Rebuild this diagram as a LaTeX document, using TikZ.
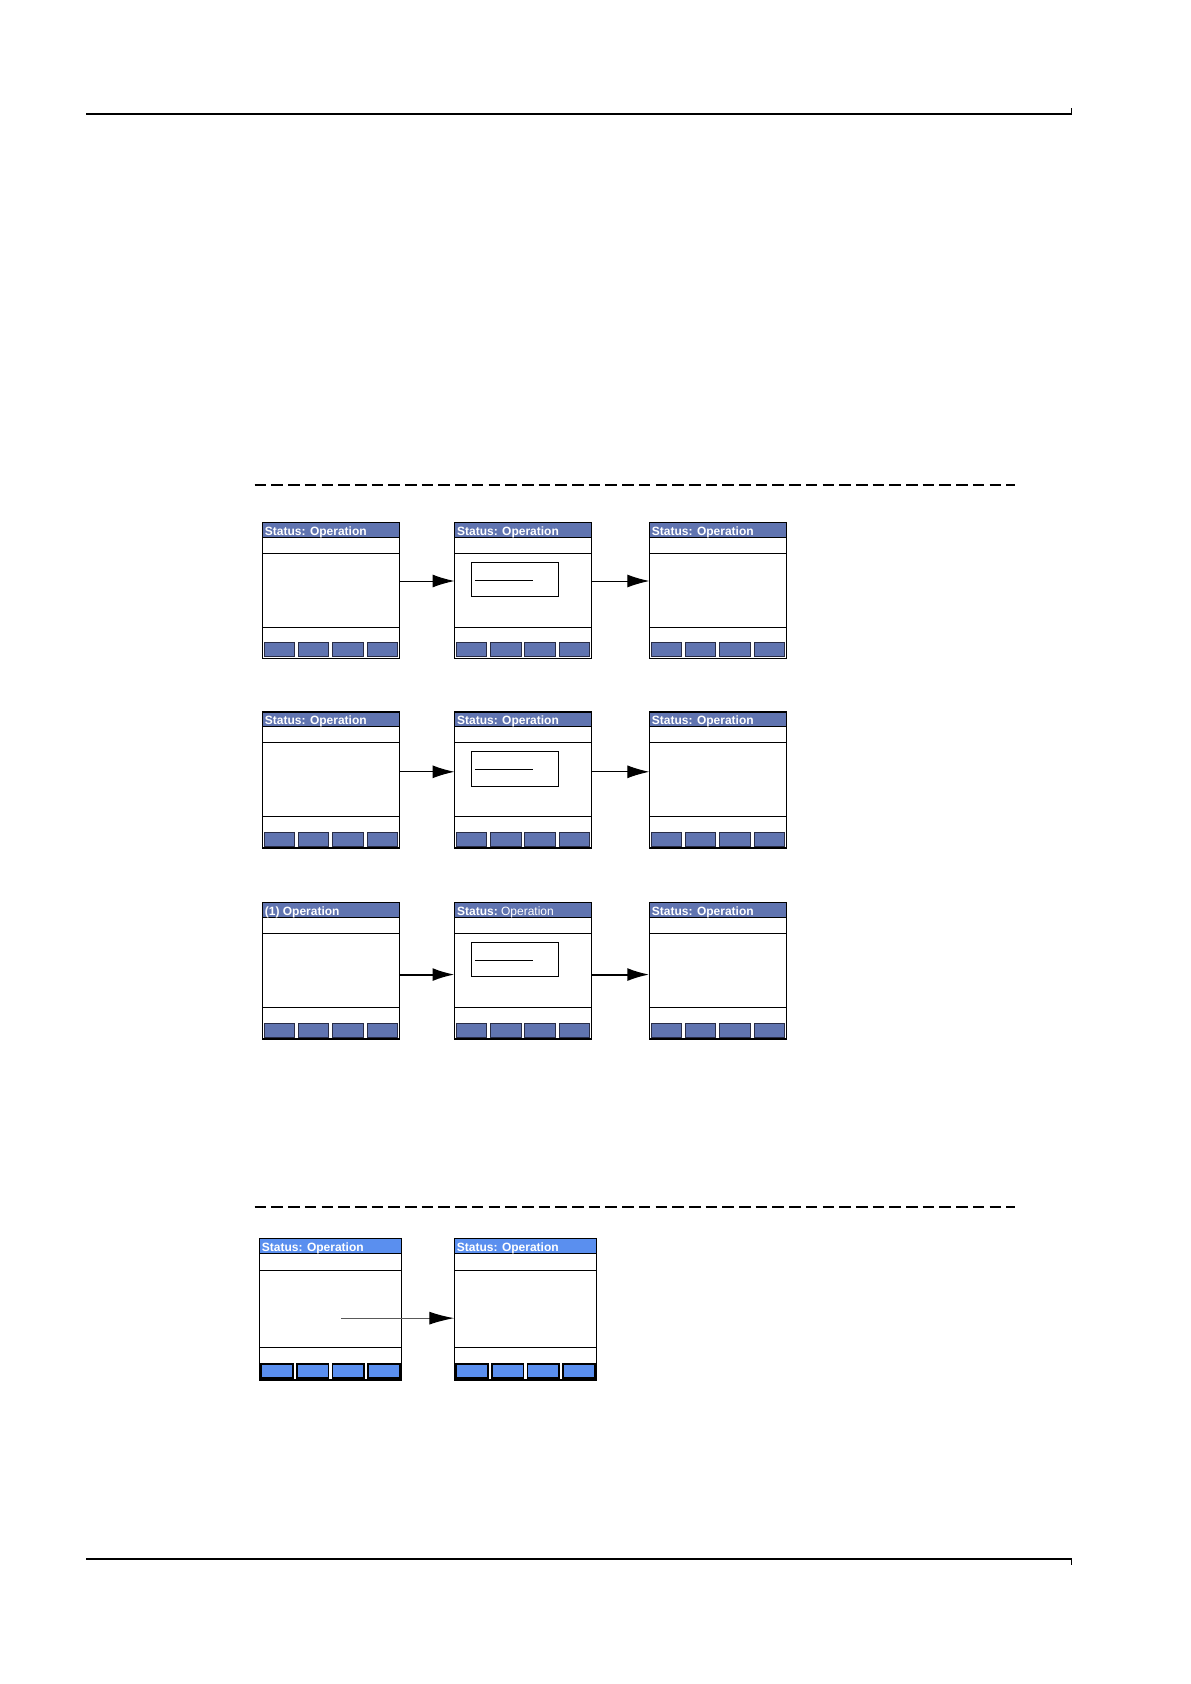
\documentclass[tikz,border=0pt]{standalone}
\usepackage{fontspec}
\newfontfamily\arialfont{Liberation Sans}
\usetikzlibrary{arrows.meta}
\definecolor{barA}{RGB}{96,116,176}
\definecolor{barB}{RGB}{90,143,239}
\definecolor{btnlineA}{RGB}{40,44,70}
\tikzset{
  frame/.style={draw=black, line width=0.75pt, rectangle, inner sep=0pt, outer sep=0pt, fill=none},
  innerline/.style={draw=black, line width=0.5pt},
  btnA/.style={fill=barA, draw=btnlineA, line width=0.5pt},
  btnB/.style={fill=barB, draw=black, line width=0.9pt},
  titletext/.style={text=white, inner sep=0pt, font=\arialfont\fontsize{6pt}{7pt}\selectfont\bfseries},
  arr/.style={draw=black, line width=0.5pt, -{Latex[length=11pt,width=6.5pt]}},
  arrthick/.style={draw=black, line width=1pt, -{Latex[length=11pt,width=6.5pt]}},
  arrgray/.style={draw=black!65, line width=0.6pt, -{Latex[length=12.5pt,width=6.5pt,color=black]}},
  rule/.style={draw=black, line width=0.8pt},
  sep/.style={draw=black, line width=0.7pt, dash pattern=on 5.8pt off 2.55pt},
}
% #1 name, #2 left x, #3 top y, #4 width, #5 height, #6 title, #7 colour set (A/B)
\newcommand\lcdscreen[7]{%
  \fill[bar#7] (#2,#3) rectangle (#2+#4,#3+0.11*#5);
  \draw[innerline] (#2,#3+0.11*#5) -- (#2+#4,#3+0.11*#5);
  \draw[innerline] (#2,#3+0.228*#5) -- (#2+#4,#3+0.228*#5);
  \draw[innerline] (#2,#3+0.773*#5) -- (#2+#4,#3+0.773*#5);
  \foreach \i in {0,1,2,3}{%
    \draw[btn#7] (#2+0.0125*#4+\i*0.251*#4,#3+0.887*#5) rectangle ++(0.222*#4,0.1*#5);}
  \node[frame, minimum width=#4*0.5pt, minimum height=#5*0.5pt] (#1) at (#2+#4/2,#3+#5/2) {};
  \node[titletext, anchor=base west] (#1t) at (#2+2.2,#3+0.094*#5) {#6};
}
% dialog box inside a screen: #1 left x, #2 top y
\newcommand\lcddialog[2]{%
  \draw[innerline] (#1+17,#2+40) rectangle (#1+104.4,#2+74.5);
  \draw[innerline] (#1+20.3,#2+58) -- (#1+78.7,#2+58);
}
\begin{document}
\begin{tikzpicture}[x=0.5pt,y=-0.5pt]
\useasboundingbox (0,0) rectangle (1190,1684);
% page rules
\draw[rule] (86,114) -- (1071.3,114) -- (1071.3,108);
\draw[rule] (86,1559) -- (1071.3,1559) -- (1071.3,1565);
% separators
\draw[sep] (254.7,485) -- (1015,485);
\draw[sep] (254.7,1207) -- (1015,1207);
% row 1
\lcdscreen{s11}{262.3}{522.3}{137}{136}{Status: Operation}{A}
\lcdscreen{s12}{454.5}{522.3}{137}{136}{Status: Operation}{A}
\lcddialog{454.5}{522.3}
\lcdscreen{s13}{649.3}{522.3}{137}{136}{Status: Operation}{A}
\draw[arr] ([yshift=4.65pt]s11.east) -- ([yshift=4.65pt]s12.west);
\draw[arr] ([yshift=4.65pt]s12.east) -- ([yshift=4.65pt]s13.west);
% row 2
\lcdscreen{s21}{262.3}{711.8}{137}{136}{Status: Operation}{A}
\lcdscreen{s22}{454.5}{711.8}{137}{136}{Status: Operation}{A}
\lcddialog{454.5}{711.8}
\lcdscreen{s23}{649.3}{711.8}{137}{136}{Status: Operation}{A}
\draw[arr] ([yshift=4pt]s21.east) -- ([yshift=4pt]s22.west);
\draw[arr] ([yshift=4pt]s22.east) -- ([yshift=4pt]s23.west);
% row 3
\lcdscreen{s31}{262.3}{902.3}{137}{136.5}{(1) Operation}{A}
\lcdscreen{s32}{454.5}{902.3}{137}{136.5}{Status:\mdseries\ Operation}{A}
\lcddialog{454.5}{902.3}
\lcdscreen{s33}{649.3}{902.3}{137}{136.5}{Status: Operation}{A}
\draw[arrthick] ([yshift=-2pt]s31.east) -- ([yshift=-2pt]s32.west);
\draw[arrthick] ([yshift=-2pt]s32.east) -- ([yshift=-2pt]s33.west);
% row 4
\lcdscreen{s41}{259.3}{1238.3}{142.4}{141.7}{Status: Operation}{B}
\lcdscreen{s42}{454.3}{1238.3}{142.4}{141.7}{Status: Operation}{B}
\draw[arrgray] ([xshift=5.25pt,yshift=-4.5pt]s41.center) -- ([yshift=-4.5pt]s42.west);
\end{tikzpicture}
\end{document}
